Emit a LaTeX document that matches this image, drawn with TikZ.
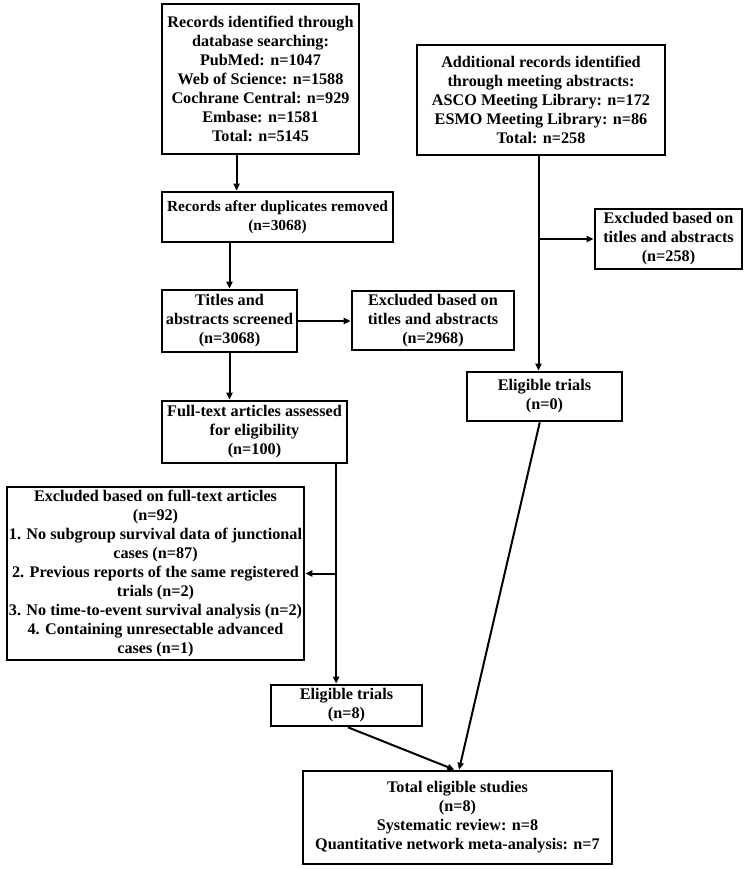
\documentclass[tikz,border=0pt]{standalone}
\usepackage{fontspec}
\setmainfont{Liberation Serif}
\usetikzlibrary{arrows.meta,calc}
\tikzset{
  box/.style={draw, line width=2.6pt, align=center, inner sep=1pt,
    font=\fontsize{16.2}{19}\selectfont\bfseries},
  arr/.style={line width=2pt, -{Triangle[length=7pt,width=6pt]}},
  ln/.style={line width=2pt}
}
\begin{document}
\begin{tikzpicture}[x=1pt,y=-1pt]
\useasboundingbox (0,0) rectangle (751,869);
% left column
\node[box, minimum width=197pt, minimum height=150pt] (b1) at (260.5,79)
  {Records identified through\\database searching:\\PubMed: n=1047\\Web of Science: n=1588\\Cochrane Central: n=929\\Embase: n=1581\\Total: n=5145};
\node[box, minimum width=231pt, minimum height=50pt, font=\fontsize{15.4}{19}\selectfont\bfseries] (b2) at (277.5,217)
  {Records after duplicates removed\\(n=3068)};
\node[box, minimum width=135pt, minimum height=62pt] (b3) at (229.5,321)
  {Titles and\\abstracts screened\\(n=3068)};
\node[box, minimum width=162pt, minimum height=59pt] (e1) at (433,320.5)
  {Excluded based on\\titles and abstracts\\(n=2968)};
\node[box, minimum width=185pt, minimum height=62pt] (b4) at (254.5,432)
  {Full-text articles assessed\\for eligibility\\(n=100)};
\node[box, minimum width=297pt, minimum height=173pt] (e2) at (155.5,573.5)
  {Excluded based on full-text articles\\(n=92)\\1. No subgroup survival data of junctional\\cases (n=87)\\2. Previous reports of the same registered\\trials (n=2)\\3. No time-to-event survival analysis (n=2)\\4. Containing unresectable advanced\\cases (n=1)};
\node[box, minimum width=151pt, minimum height=41pt] (el8) at (346.5,705.5)
  {Eligible trials\\(n=8)};
\node[box, minimum width=309pt, minimum height=93pt] (tot) at (457.5,817.5)
  {Total eligible studies\\(n=8)\\Systematic review: n=8\\Quantitative network meta-analysis: n=7};
% right column
\node[box, minimum width=248pt, minimum height=110pt] (r1) at (541,100)
  {Additional records identified\\through meeting abstracts:\\ASCO Meeting Library: n=172\\ESMO Meeting Library: n=86\\Total: n=258};
\node[box, minimum width=147pt, minimum height=60pt] (re) at (668.5,239)
  {Excluded based on\\titles and abstracts\\(n=258)};
\node[box, minimum width=155pt, minimum height=49pt] (el0) at (544.5,396.5)
  {Eligible trials\\(n=0)};
% connectors
\coordinate (c1) at ($(b1.south west)!0.38!(b1.south east)$);
\draw[arr] (c1) -- (c1 |- b2.north);
\draw[arr] (b2.south -| b3.north) -- (b3.north);
\draw[arr] (b3.east) -- (b3.east -| e1.west);
\draw[arr] (b3.south) -- (b3.south |- b4.north);
\coordinate (c2) at ($(b4.south west)!0.935!(b4.south east)$);
\draw[arr] (c2) -- (c2 |- el8.north);
\draw[arr] (c2 |- e2.east) -- (e2.east);
\coordinate (c3) at ($(r1.south west)!0.49!(r1.south east)$);
\draw[arr] (c3) -- (c3 |- el0.north);
\draw[arr] (c3 |- re.west) -- (re.west);
\coordinate (t1) at ($(tot.north west)!0.49!(tot.north east)$);
\coordinate (t2) at ($(tot.north west)!0.505!(tot.north east)$);
\coordinate (s1) at ($(el8.south west)!0.51!(el8.south east)$);
\coordinate (s0) at ($(el0.south west)!0.47!(el0.south east)$);
\draw[arr] (s1) -- (t1);
\draw[arr] (s0) -- (t2);
\end{tikzpicture}
\end{document}
